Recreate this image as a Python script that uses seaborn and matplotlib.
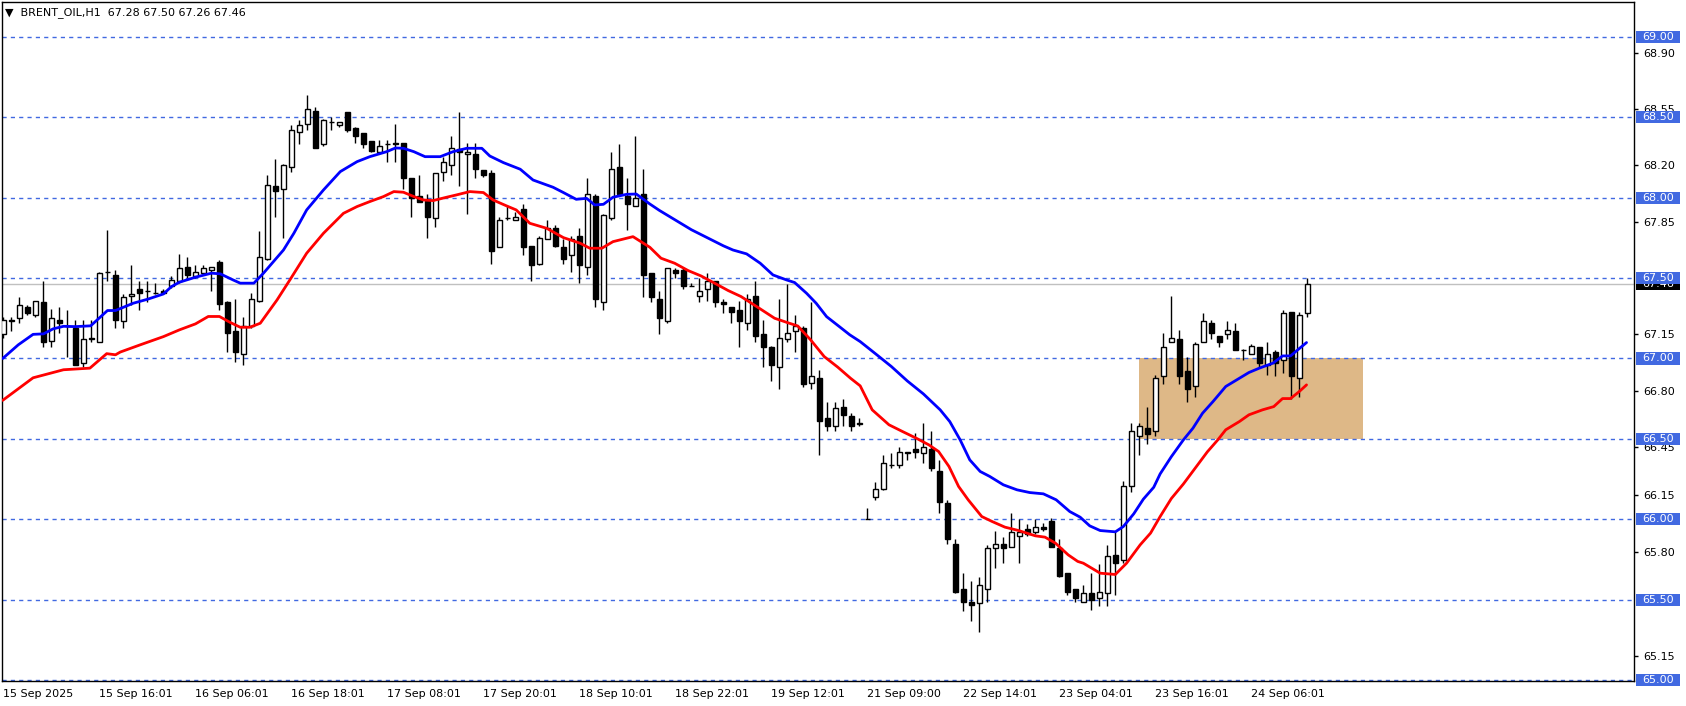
import matplotlib
matplotlib.use("Agg")
import numpy as np
import pandas as pd
import seaborn as sns
import matplotlib.pyplot as plt
import matplotlib.transforms as mtransforms
from matplotlib.patches import Rectangle

# hourly candles, bar 0 = 15 Sep 2025 ... bar 163 = last bar
opens = [
    67.15, 67.23, 67.25, 67.32, 67.27, 67.35, 67.11, 67.24, 67.20, 67.19,
    66.97, 67.13, 67.10, 67.54, 67.52, 67.23, 67.39, 67.43, 67.42, 67.41,
    67.42, 67.45, 67.48, 67.57, 67.51, 67.53, 67.55, 67.60, 67.35, 67.17,
    67.03, 67.20, 67.36, 67.62, 68.07, 68.05, 68.19, 68.41, 68.46, 68.54,
    68.33, 68.47, 68.45, 68.53, 68.43, 68.40, 68.35, 68.28, 68.33, 68.34,
    68.34, 68.12, 68.01, 67.98, 67.87, 68.16, 68.20, 68.30, 68.27, 68.27,
    68.17, 68.15, 67.69, 67.87, 67.86, 67.93, 67.70, 67.59, 67.74, 67.81,
    67.69, 67.64, 67.76, 67.57, 68.01, 67.35, 67.87, 68.19, 68.01, 67.95,
    68.02, 67.53, 67.37, 67.23, 67.55, 67.55, 67.45, 67.39, 67.43, 67.48,
    67.35, 67.32, 67.30, 67.22, 67.39, 67.15, 67.07, 66.95, 67.12, 67.17,
    67.19, 66.85, 66.88, 66.63, 66.58, 66.70, 66.64, 66.59, 66.00, 66.14,
    66.19, 66.34, 66.34, 66.41, 66.44, 66.41, 66.44, 66.30, 66.10, 65.85,
    65.57, 65.49, 65.48, 65.57, 65.82, 65.85, 65.83, 65.90, 65.94, 65.92,
    65.95, 65.99, 65.82, 65.67, 65.57, 65.49, 65.54, 65.51, 65.54, 65.78,
    65.75, 66.21, 66.52, 66.57, 66.55, 66.89, 67.10, 67.12, 66.92, 66.83,
    67.10, 67.22, 67.14, 67.15, 67.17, 67.05, 67.03, 67.07, 66.96, 67.04,
    66.99, 67.29, 66.88, 67.28,
]
highs = [
    67.26, 67.26, 67.38, 67.33, 67.36, 67.48, 67.31, 67.32, 67.30, 67.24,
    67.24, 67.24, 67.54, 67.80, 67.55, 67.40, 67.58, 67.48, 67.48, 67.47,
    67.43, 67.51, 67.65, 67.63, 67.58, 67.58, 67.57, 67.61, 67.36, 67.37,
    67.26, 67.41, 67.79, 68.14, 68.24, 68.21, 68.45, 68.48, 68.64, 68.56,
    68.49, 68.50, 68.47, 68.53, 68.44, 68.40, 68.35, 68.36, 68.36, 68.46,
    68.34, 68.12, 68.14, 68.02, 68.15, 68.25, 68.38, 68.53, 68.34, 68.34,
    68.17, 68.17, 67.88, 67.95, 67.91, 67.96, 67.70, 67.76, 67.86, 67.83,
    67.74, 67.76, 67.81, 68.12, 68.02, 67.90, 68.28, 68.33, 68.12, 68.38,
    68.18, 67.53, 67.42, 67.56, 67.56, 67.56, 67.47, 67.50, 67.53, 67.48,
    67.37, 67.32, 67.36, 67.40, 67.48, 67.24, 67.08, 67.37, 67.46, 67.27,
    67.20, 67.35, 66.93, 66.73, 66.73, 66.75, 66.66, 66.63, 66.07, 66.23,
    66.40, 66.41, 66.45, 66.42, 66.54, 66.60, 66.55, 66.37, 66.12, 65.88,
    65.67, 65.62, 65.64, 65.84, 65.93, 65.89, 66.04, 66.00, 65.97, 66.00,
    65.98, 66.01, 65.88, 65.67, 65.57, 65.59, 65.67, 65.72, 65.84, 65.92,
    66.24, 66.60, 66.60, 66.70, 66.90, 67.16, 67.39, 67.18, 67.01, 67.10,
    67.28, 67.24, 67.14, 67.23, 67.22, 67.06, 67.09, 67.07, 67.10, 67.05,
    67.30, 67.29, 67.29, 67.50,
]
lows = [
    67.13, 67.17, 67.22, 67.27, 67.26, 67.07, 67.07, 67.16, 67.01, 66.96,
    66.95, 67.10, 67.10, 67.48, 67.19, 67.19, 67.33, 67.30, 67.35, 67.40,
    67.40, 67.44, 67.47, 67.50, 67.50, 67.52, 67.42, 67.30, 67.04, 66.98,
    66.96, 67.19, 67.35, 67.61, 67.88, 67.75, 68.16, 68.33, 68.42, 68.31,
    68.32, 68.42, 68.44, 68.41, 68.34, 68.31, 68.28, 68.27, 68.22, 68.22,
    68.05, 67.88, 67.97, 67.75, 67.82, 68.10, 68.14, 68.07, 67.90, 68.12,
    68.13, 67.59, 67.69, 67.86, 67.86, 67.64, 67.48, 67.58, 67.74, 67.69,
    67.59, 67.54, 67.47, 67.52, 67.32, 67.30, 67.86, 68.02, 67.80, 67.95,
    67.38, 67.35, 67.15, 67.22, 67.50, 67.43, 67.45, 67.35, 67.36, 67.32,
    67.28, 67.22, 67.07, 67.18, 67.10, 66.95, 66.86, 66.81, 67.10, 67.04,
    66.82, 66.81, 66.40, 66.55, 66.55, 66.58, 66.55, 66.58, 66.00, 66.12,
    66.18, 66.32, 66.32, 66.37, 66.38, 66.35, 66.30, 66.04, 65.85, 65.54,
    65.43, 65.37, 65.30, 65.49, 65.70, 65.73, 65.83, 65.73, 65.90, 65.91,
    65.93, 65.83, 65.64, 65.53, 65.49, 65.49, 65.44, 65.46, 65.46, 65.53,
    65.73, 66.17, 66.40, 66.47, 66.52, 66.84, 67.10, 66.84, 66.73, 66.76,
    67.10, 67.12, 67.07, 67.12, 67.05, 66.99, 67.03, 66.95, 66.90, 66.89,
    66.91, 66.75, 66.76, 67.26,
]
closes = [
    67.24, 67.24, 67.33, 67.28, 67.36, 67.10, 67.25, 67.22, 67.20, 66.96,
    67.12, 67.12, 67.53, 67.54, 67.24, 67.38, 67.40, 67.41, 67.42, 67.41,
    67.41, 67.49, 67.56, 67.52, 67.54, 67.56, 67.57, 67.34, 67.16, 67.04,
    67.20, 67.37, 67.63, 68.08, 68.04, 68.20, 68.42, 68.45, 68.55, 68.31,
    68.48, 68.47, 68.47, 68.42, 68.38, 68.33, 68.29, 68.32, 68.33, 68.33,
    68.12, 68.00, 67.97, 67.88, 68.15, 68.22, 68.31, 68.28, 68.28, 68.18,
    68.14, 67.67, 67.86, 67.87, 67.88, 67.69, 67.58, 67.75, 67.81, 67.70,
    67.62, 67.74, 67.58, 68.02, 67.37, 67.89, 68.18, 68.02, 67.96, 68.00,
    67.52, 67.38, 67.25, 67.56, 67.53, 67.45, 67.45, 67.42, 67.48, 67.35,
    67.34, 67.29, 67.23, 67.37, 67.14, 67.07, 66.96, 67.13, 67.16, 67.20,
    66.84, 66.89, 66.61, 66.58, 66.69, 66.65, 66.58, 66.60, 66.00, 66.19,
    66.35, 66.34, 66.42, 66.42, 66.42, 66.45, 66.32, 66.11, 65.88, 65.55,
    65.49, 65.47, 65.59, 65.82, 65.85, 65.82, 65.92, 65.92, 65.91, 65.95,
    65.94, 65.83, 65.65, 65.55, 65.51, 65.54, 65.50, 65.55, 65.77, 65.73,
    66.21, 66.55, 66.58, 66.53, 66.88, 67.07, 67.13, 66.89, 66.81, 67.09,
    67.23, 67.16, 67.10, 67.18, 67.05, 67.05, 67.08, 66.97, 67.03, 66.97,
    67.28, 66.89, 67.27, 67.46,
]

# moving averages (bar position, price)
blue_pos = [-0.1, 1.85, 3.7, 5.0, 6.2, 7.5, 9.0, 10.9, 13.0, 14.0, 16.2, 18.0,
            20.0, 21.0, 22.0, 24.0, 26.0, 27.1, 28.7, 29.6, 31.3, 32.5, 35.0,
            36.3, 37.9, 40.0, 42.1, 44.2, 45.8, 47.9, 49.0, 50.0, 51.3, 52.7,
            54.6, 56.2, 57.9, 59.8, 60.8, 62.5, 64.6, 66.2, 68.7, 70.0, 71.6,
            72.9, 73.9, 75.0, 76.2, 77.9, 79.1, 80.8, 82.0, 84.0, 86.0, 88.0,
            90.0, 91.2, 92.9, 94.6, 96.2, 97.9, 98.9, 100.4, 101.6, 102.9,
            104.6, 105.8, 107.1, 109.0, 111.0, 113.0, 115.0, 117.1, 118.3,
            119.6, 120.8, 122.1, 123.3, 125.0, 126.7, 128.3, 130.0, 131.6,
            133.3, 134.6, 135.8, 137.1, 139.0, 140.0, 141.3, 142.5, 143.8,
            144.6, 146.0, 147.5, 148.7, 149.9, 151.2, 152.8, 154.5, 155.7,
            157.0, 158.7, 159.9, 160.9, 162.0, 162.9]
blue_val = [67.00, 67.085, 67.15, 67.153, 67.184, 67.20, 67.198, 67.203, 67.298,
            67.298, 67.343, 67.368, 67.401, 67.447, 67.474, 67.505, 67.530,
            67.526, 67.488, 67.468, 67.468, 67.530, 67.674, 67.778, 67.923,
            68.047, 68.161, 68.223, 68.254, 68.285, 68.308, 68.306, 68.285,
            68.254, 68.254, 68.285, 68.306, 68.306, 68.258, 68.217, 68.176,
            68.109, 68.064, 68.031, 67.989, 67.995, 67.954, 67.958, 68.002,
            68.020, 68.022, 67.960, 67.92, 67.86, 67.80, 67.75, 67.70, 67.674,
            67.650, 67.592, 67.519, 67.488, 67.472, 67.405, 67.343, 67.260,
            67.194, 67.147, 67.105, 67.03, 66.95, 66.86, 66.78, 66.681, 66.608,
            66.494, 66.370, 66.298, 66.267, 66.215, 66.184, 66.167, 66.159,
            66.122, 66.049, 66.014, 65.960, 65.931, 65.923, 65.956, 66.035,
            66.126, 66.200, 66.283, 66.39, 66.494, 66.567, 66.660, 66.732,
            66.826, 66.877, 66.913, 66.940, 66.971, 67.016, 67.016, 67.062,
            67.099]
red_pos = [-0.1, 3.7, 7.5, 10.8, 12.9, 14.0, 14.6, 17.1, 20.0, 22.0, 24.0, 25.6,
           27.0, 28.3, 29.6, 30.8, 32.1, 34.2, 35.8, 37.9, 40.0, 42.5, 44.2,
           45.8, 47.5, 48.8, 50.0, 51.3, 52.5, 53.7, 55.4, 56.6, 58.3, 60.0,
           61.2, 62.9, 64.1, 65.8, 67.9, 70.0, 72.1, 73.3, 74.8, 76.2, 78.7,
           80.8, 82.2, 83.9, 85.6, 87.2, 88.9, 90.6, 92.2, 94.3, 96.4, 98.0,
           99.3, 100.9, 102.6, 104.3, 105.9, 107.1, 108.6, 110.7, 112.4, 114.1,
           115.7, 116.9, 118.2, 119.4, 120.6, 122.3, 123.6, 125.2, 126.9,
           129.0, 130.2, 131.5, 133.1, 134.3, 135.0, 137.1, 139.0, 140.4,
           142.1, 143.4, 144.6, 146.0, 147.5, 149.0, 150.5, 151.8, 152.8,
           154.5, 155.7, 157.4, 158.8, 159.9, 160.9, 162.0, 162.9]
red_val = [66.74, 66.88, 66.93, 66.94, 67.03, 67.023, 67.04, 67.085, 67.136,
           67.178, 67.215, 67.261, 67.261, 67.225, 67.194, 67.194, 67.219,
           67.364, 67.488, 67.654, 67.778, 67.902, 67.944, 67.975, 68.006,
           68.037, 68.033, 68.006, 67.985, 67.981, 68.002, 68.016, 68.037,
           68.031, 67.985, 67.948, 67.923, 67.840, 67.809, 67.751, 67.716,
           67.685, 67.685, 67.726, 67.757, 67.691, 67.623, 67.592, 67.546,
           67.513, 67.468, 67.422, 67.385, 67.318, 67.250, 67.223, 67.202,
           67.116, 67.012, 66.946, 66.877, 66.830, 66.681, 66.588, 66.546,
           66.505, 66.463, 66.422, 66.329, 66.205, 66.122, 66.018, 65.987,
           65.952, 65.931, 65.898, 65.890, 65.853, 65.780, 65.739, 65.728,
           65.666, 65.658, 65.728, 65.842, 65.915, 66.018, 66.13, 66.22, 66.32,
           66.42, 66.494, 66.557, 66.608, 66.650, 66.681, 66.701, 66.751,
           66.751, 66.795, 66.836]

date_labels = ["15 Sep 2025", "15 Sep 16:01", "16 Sep 06:01", "16 Sep 18:01",
               "17 Sep 08:01", "17 Sep 20:01", "18 Sep 10:01", "18 Sep 22:01",
               "19 Sep 12:01", "21 Sep 09:00", "22 Sep 14:01", "23 Sep 04:01",
               "23 Sep 16:01", "24 Sep 06:01"]
level_lines = [69.00, 68.50, 68.00, 67.50, 67.00, 66.50, 66.00, 65.50, 65.00]
price_ticks = [68.90, 68.55, 68.20, 67.85, 67.15, 66.80, 66.45, 66.15, 65.80, 65.15]
last_price = 67.46
zone = (66.50, 67.00)

LINE_BLUE = "#4169E1"

sns.set_style("white")
plt.rcParams["font.family"] = ["DejaVu Sans"]

df = pd.DataFrame({"open": opens, "high": highs, "low": lows, "close": closes})
df["x"] = np.arange(len(df))
df["bull"] = df["close"] >= df["open"]

fig = plt.figure(figsize=(16.86, 7.06), dpi=100)
ax = fig.add_axes([0.00148, 0.03584, 0.96797, 0.96133])

# support / resistance zone
ax.add_patch(Rectangle((141.9, zone[0]), 28.0, zone[1] - zone[0],
                       facecolor="#DEB887", edgecolor="none", zorder=0.5))

for lvl in level_lines:
    ax.axhline(lvl, color=LINE_BLUE, lw=1, ls=(0, (3, 3)), zorder=1)
ax.axhline(last_price, color="#C0C0C0", lw=1, zorder=1)

# candles
ax.vlines(df["x"], df["low"], df["high"], color="black", lw=1, zorder=3)
body = (df["close"] - df["open"]).abs()
solid = body >= 0.006
for bull, fc in [(True, "white"), (False, "black")]:
    part = df[solid & (df["bull"] == bull)]
    ax.bar(part["x"], (part["close"] - part["open"]).abs(),
           bottom=part[["open", "close"]].min(axis=1), width=0.6,
           facecolor=fc, edgecolor="black", linewidth=1, zorder=4)
doji = df[~solid]
ax.hlines(doji["open"], doji["x"] - 0.3, doji["x"] + 0.3, color="black", lw=1, zorder=4)

sns.lineplot(x=blue_pos, y=blue_val, ax=ax, color="blue", linewidth=2,
             estimator=None, zorder=5)
sns.lineplot(x=red_pos, y=red_val, ax=ax, color="red", linewidth=2,
             estimator=None, zorder=5)

ax.set_xlim(-0.125, 203.9)
ax.set_ylim(64.998, 69.215)

ax.set_xticks(np.arange(0, 12 * len(date_labels), 12))
ax.set_xticklabels(date_labels, ha="left")
ax.yaxis.tick_right()
ax.set_yticks(price_ticks)
ax.set_yticklabels([f"{p:.2f}" for p in price_ticks])
ax.tick_params(axis="x", length=4, width=1, pad=2, labelsize=8, colors="black")
ax.tick_params(axis="y", length=3, width=1, pad=3, labelsize=8, colors="black")
ax.set_xlabel("")
ax.set_ylabel("")
for sp in ax.spines.values():
    sp.set_color("black")
    sp.set_linewidth(1)

# price labels on the right scale
trans = mtransforms.blended_transform_factory(ax.transAxes, ax.transData)
box_w, box_h = 0.027, 0.075


def price_box(value, color, z):
    ax.add_patch(Rectangle((1.0009, value - box_h / 2), box_w, box_h, transform=trans,
                           facecolor=color, edgecolor="none", clip_on=False, zorder=z))
    ax.text(1.0009 + box_w / 2, value, f"{value:.2f}", transform=trans, color="white",
            fontsize=8, ha="center", va="center", clip_on=False, zorder=z + 0.1)


price_box(last_price, "black", 6)
for lvl in level_lines:
    price_box(lvl, LINE_BLUE, 7)

ax.text(0.0015, 0.984, "\u25bc  BRENT_OIL,H1  67.28 67.50 67.26 67.46",
        transform=ax.transAxes, fontsize=8, ha="left", va="center", color="black")

fig.savefig("out.png", dpi=100)
plt.close(fig)
